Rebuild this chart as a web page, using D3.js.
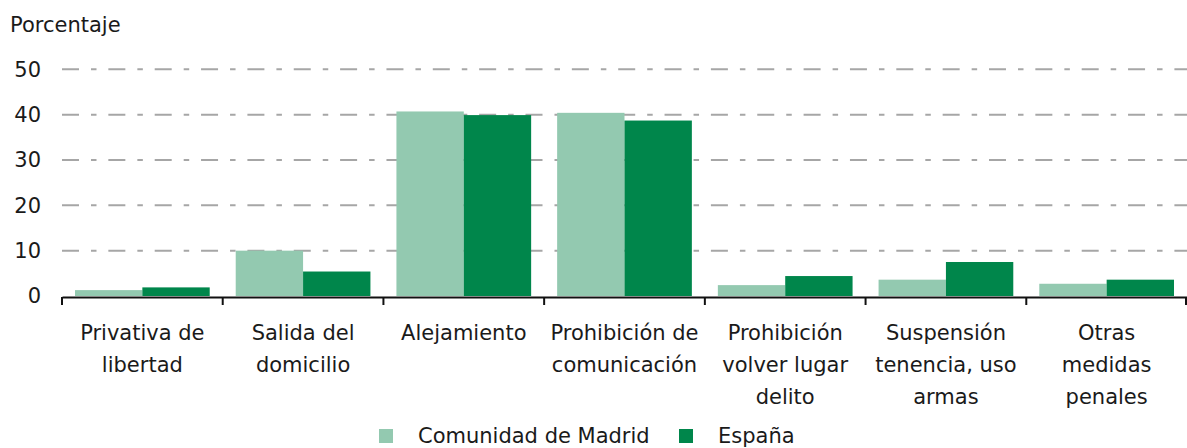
<!DOCTYPE html>
<html>
<head>
<meta charset="utf-8">
<script src="https://cdn.jsdelivr.net/npm/d3@7"></script>
<style>
  body { margin: 0; background: #fff; }
  text { font-family: "DejaVu Sans", sans-serif; fill: #1a1a1a; }
</style>
</head>
<body>
<div class="chart"></div>
<script>
const categories = [
    ["Privativa de", "libertad"],
    ["Salida del", "domicilio"],
    ["Alejamiento"],
    ["Prohibición de", "comunicación"],
    ["Prohibición", "volver lugar", "delito"],
    ["Suspensión", "tenencia, uso", "armas"],
    ["Otras", "medidas", "penales"]
];
const seriesNames = ["Comunidad de Madrid", "España"];
const madrid = [1.3, 10.0, 40.7, 40.4, 2.4, 3.6, 2.7];
const espana = [1.9, 5.4, 39.9, 38.7, 4.4, 7.5, 3.6];
const yTicks = [0, 10, 20, 30, 40, 50];
const colors = ["#93c9b0", "#00864b"];

function createChart() {
    const width = 1187, height = 448;
    const left = 62, right = 1187, top = 69.3, bottom = 296;

    const svg = d3.select("div.chart").append("svg")
        .attr("width", width)
        .attr("height", height);

    const keys = categories.map((d, i) => "c" + i);
    const rows = keys.map((k, i) => ({ key: k, label: categories[i], values: [madrid[i], espana[i]] }));

    // Skalor
    const x0 = d3.scaleBand().domain(keys).range([left, right]).padding(0);
    const x1 = d3.scaleBand().domain([0, 1]).range([13, x0.bandwidth() - 13]).padding(0);
    const y = d3.scaleLinear().domain([0, 50]).range([bottom, top]);

    // Stödlinjer
    svg.append("g").selectAll("line")
        .data(yTicks.filter(t => t > 0))
        .enter().append("line")
        .attr("x1", left).attr("x2", right)
        .attr("y1", d => y(d)).attr("y2", d => y(d))
        .attr("stroke", "#a6a6a6")
        .attr("stroke-width", 2)
        .attr("stroke-dasharray", "17,12,5.5,11.85");

    // Staplar
    svg.append("g").selectAll("g")
        .data(rows)
        .enter().append("g")
        .attr("transform", d => `translate(${x0(d.key)},0)`)
        .selectAll("rect")
        .data(d => d.values.map((v, i) => ({ i, v })))
        .enter().append("rect")
        .attr("x", d => x1(d.i))
        .attr("width", x1.bandwidth())
        .attr("y", d => y(d.v))
        .attr("height", d => y(0) - y(d.v))
        .attr("fill", d => colors[d.i]);

    // y-axel
    const yAxis = svg.append("g")
        .attr("transform", `translate(${left},0)`)
        .call(d3.axisLeft(y).tickValues(yTicks).tickSize(0).tickPadding(21));
    yAxis.select(".domain").remove();
    yAxis.selectAll("text")
        .attr("font-family", "DejaVu Sans")
        .attr("font-size", 21)
        .attr("fill", "#1a1a1a");

    // x-axel
    const xAxis = svg.append("g")
        .attr("transform", `translate(0,${bottom + 1})`)
        .call(d3.axisBottom(x0).tickSize(0).tickFormat(""));
    xAxis.select(".domain").attr("stroke", "#111").attr("stroke-width", 2);
    const bounds = keys.map(k => x0(k)).concat([right - 1]);
    xAxis.selectAll(".bound")
        .data(bounds)
        .enter().append("line")
        .attr("class", "bound")
        .attr("x1", d => d).attr("x2", d => d)
        .attr("y1", 0).attr("y2", 8)
        .attr("stroke", "#111")
        .attr("stroke-width", 2);

    // Kategorietiketter
    const lab = svg.append("g").selectAll("text")
        .data(rows)
        .enter().append("text")
        .attr("text-anchor", "middle")
        .attr("font-size", 21)
        .attr("x", d => x0(d.key) + x0.bandwidth() / 2)
        .attr("y", 340);
    lab.selectAll("tspan")
        .data(d => d.label.map(s => ({ s, x: x0(d.key) + x0.bandwidth() / 2 })))
        .enter().append("tspan")
        .attr("x", d => d.x)
        .attr("dy", (d, i) => i === 0 ? 0 : 32)
        .text(d => d.s);

    // Rubrik för y-axeln
    svg.append("text")
        .attr("x", 10)
        .attr("y", 32)
        .attr("font-size", 21)
        .text("Porcentaje");

    // Förklaring
    const legX = [379, 679];
    const leg = svg.append("g").selectAll("g")
        .data(seriesNames)
        .enter().append("g")
        .attr("transform", (d, i) => `translate(${legX[i]},429)`);
    leg.append("rect")
        .attr("width", 14).attr("height", 14)
        .attr("fill", (d, i) => colors[i]);
    leg.append("text")
        .attr("x", 39)
        .attr("y", 14)
        .attr("font-size", 21)
        .text(d => d);
}

createChart();
</script>
</body>
</html>
